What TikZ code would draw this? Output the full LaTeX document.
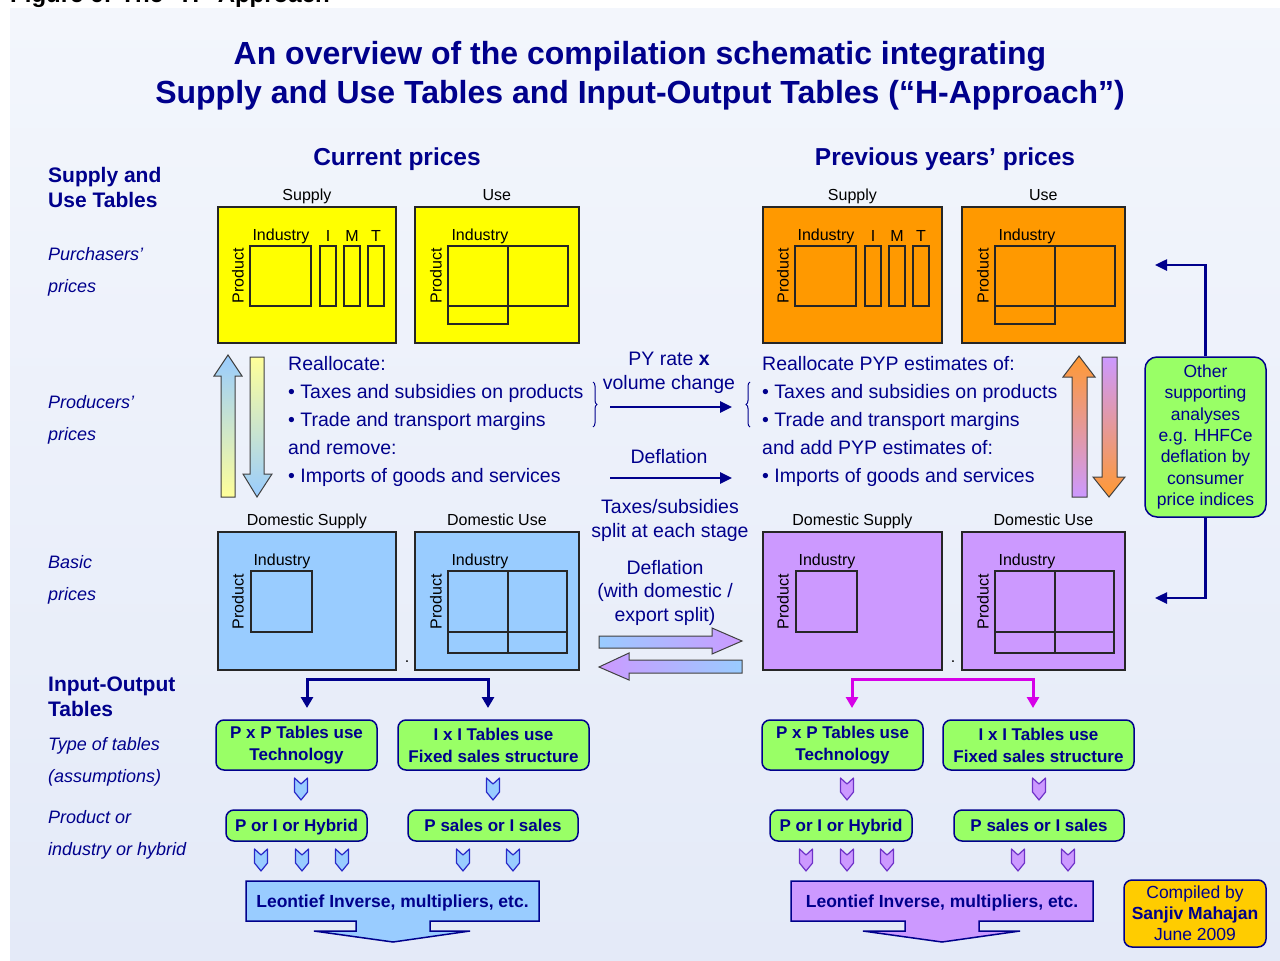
\documentclass[tikz,border=0pt]{standalone}
\usepackage{fontspec}
\setmainfont{Liberation Sans}
\usetikzlibrary{arrows.meta,decorations.pathreplacing}

\definecolor{navy}{RGB}{0,0,140}
\definecolor{sutyellow}{RGB}{255,255,0}
\definecolor{sutorange}{RGB}{255,153,0}
\definecolor{basblue}{RGB}{153,204,255}
\definecolor{baspurple}{RGB}{204,153,255}
\definecolor{iogreen}{RGB}{153,255,102}
\definecolor{gold}{RGB}{255,204,0}
\definecolor{pinkline}{RGB}{214,0,232}
\definecolor{lyellow}{RGB}{255,255,153}
\definecolor{lorange}{RGB}{255,153,51}
\definecolor{chvblue}{RGB}{40,40,200}
\definecolor{chvpurple}{RGB}{110,50,200}
\definecolor{bgtop}{RGB}{243,246,252}
\definecolor{bgbot}{RGB}{228,234,248}

\tikzset{
	tbl/.style={draw=black!85,line width=1.8pt,anchor=north west,inner sep=0pt},
	cell/.style={draw=black!85,line width=1.5pt},
	lbl/.style={text=black,inner sep=0pt,font=\fontsize{16}{16}\selectfont},
	head/.style={lbl,anchor=base,yshift=6pt},
	side/.style={text=navy,inner sep=0pt,anchor=north west,align=left},
	mid/.style={text=navy,inner sep=0pt,align=center,font=\fontsize{19.5}{24}\selectfont},
	iobox/.style={draw=navy,line width=1.5pt,fill=iogreen,rounded corners=8pt,text=navy,align=center,inner sep=0pt,font=\fontsize{17}{22}\selectfont\bfseries},
	varrow/.style={draw=black!75,line width=1pt},
	thinarr/.style={navy,line width=2.5pt,-{Triangle[length=12pt,width=11pt]}},
	brk/.style={line width=3pt,{Triangle[length=11pt,width=12pt]}-{Triangle[length=11pt,width=12pt]}},
	chv/.pic={\filldraw[pic actions,line width=1.2pt,line join=round] (-6.5,0) -- (0,6) -- (6.5,0) -- (6.5,14) -- (0,22) -- (-6.5,14) -- cycle;},
	% table grids, placed at the north west corner of each table
	supgrid/.pic={
		\draw[cell] (33,40) rectangle (94,100);
		\foreach \a/\t in {103/I,127/M,151/T} {
			\draw[cell] (\a,40) rectangle ++(16,60);
			\node[lbl] (c\t) at (\a+8,30) {\t};
		}
		\node[lbl] (ind) at (64,30) {Industry};
		\node[lbl,rotate=90] (prod) at (21,70) {Product};
	},
	usegrid/.pic={
		\draw[cell] (34,40) rectangle (154,100);
		\draw[cell] (94,40) -- (94,118);
		\draw[cell] (34,100) rectangle (94,118);
		\node[lbl] (ind) at (66,30) {Industry};
		\node[lbl,rotate=90] (prod) at (22,70) {Product};
	},
	dsgrid/.pic={
		\draw[cell] (34,40) rectangle (95,101);
		\node[lbl] (ind) at (65,30) {Industry};
		\node[lbl,rotate=90] (prod) at (21,71) {Product};
	},
	dugrid/.pic={
		\draw[cell] (34,40) rectangle (153,122);
		\draw[cell] (94,40) -- (94,122);
		\draw[cell] (34,101) -- (153,101);
		\node[lbl] (ind) at (66,30) {Industry};
		\node[lbl,rotate=90] (prod) at (22,71) {Product};
	},
}

\begin{document}
\begin{tikzpicture}[x=1pt,y=-1pt]
	
	\useasboundingbox (0,0) rectangle (1280,961);
	\fill[white] (0,0) rectangle (1280,961);
	\shade[top color=bgtop,bottom color=bgbot] (10,8) rectangle (1280,961);
	\begin{scope}
		\clip (0,0) rectangle (1280,961);
		\node[anchor=base west,inner sep=0pt,font=\fontsize{24}{24}\selectfont\bfseries] (fig) at (10,2) {Figure 6: The “H” Approach};
	\end{scope}
	
	% headings
	\node[text=navy,anchor=north,align=center,inner sep=0pt,font=\fontsize{32}{39}\selectfont\bfseries] (title) at (640,41) {An overview of the compilation schematic integrating\\Supply and Use Tables and Input-Output Tables (“H-Approach”)};
	\node[text=navy,anchor=north,inner sep=0pt,font=\fontsize{24.5}{24.5}\selectfont\bfseries] (cphead) at (397,148) {Current prices};
	\node[text=navy,anchor=north,inner sep=0pt,font=\fontsize{24.5}{24.5}\selectfont\bfseries] (pyhead) at (945,148) {Previous years’ prices};
	
	% left column
	\node[side,font=\fontsize{21}{25}\selectfont\bfseries] (sutl) at (48,167) {Supply and\\Use Tables};
	\node[side,font=\fontsize{18}{32}\selectfont\itshape] (purl) at (48,247) {Purchasers’\\prices};
	\node[side,font=\fontsize{18}{32}\selectfont\itshape] (prol) at (48,395) {Producers’\\prices};
	\node[side,font=\fontsize{18}{32}\selectfont\itshape] (basl) at (48,555) {Basic\\prices};
	\node[side,font=\fontsize{21}{25}\selectfont\bfseries] (iol) at (48,677) {Input-Output\\Tables};
	\node[side,font=\fontsize{18}{32}\selectfont\itshape] (typl) at (48,737) {Type of tables\\(assumptions)};
	\node[side,font=\fontsize{18}{32}\selectfont\itshape] (hybl) at (48,810) {Product or\\industry or hybrid};
	
	% supply and use tables
	\node[tbl,fill=sutyellow,minimum width=178pt,minimum height=136pt] (cpsup) at (217,206) {};
	\node[tbl,fill=sutyellow,minimum width=164pt,minimum height=136pt] (cpuse) at (414,206) {};
	\node[tbl,fill=sutorange,minimum width=179pt,minimum height=136pt] (pysup) at (762,206) {};
	\node[tbl,fill=sutorange,minimum width=163pt,minimum height=136pt] (pyuse) at (961,206) {};
	\node[tbl,fill=basblue,minimum width=178pt,minimum height=138pt] (cpdsup) at (217,531) {};
	\node[tbl,fill=basblue,minimum width=164pt,minimum height=138pt] (cpduse) at (414,531) {};
	\node[tbl,fill=baspurple,minimum width=179pt,minimum height=138pt] (pydsup) at (762,531) {};
	\node[tbl,fill=baspurple,minimum width=163pt,minimum height=138pt] (pyduse) at (961,531) {};
	
	\pic (cps) at (cpsup.north west) {supgrid};
	\pic (cpu) at (cpuse.north west) {usegrid};
	\pic (pys) at (pysup.north west) {supgrid};
	\pic (pyu) at (pyuse.north west) {usegrid};
	\pic (cpds) at (cpdsup.north west) {dsgrid};
	\pic (cpdu) at (cpduse.north west) {dugrid};
	\pic (pyds) at (pydsup.north west) {dsgrid};
	\pic (pydu) at (pyduse.north west) {dugrid};
	
	\node[head] (cpsupl) at (cpsup.north) {Supply};
	\node[head] (cpusel) at (cpuse.north) {Use};
	\node[head] (pysupl) at (pysup.north) {Supply};
	\node[head] (pyusel) at (pyuse.north) {Use};
	\node[head] (cpdsupl) at (cpdsup.north) {Domestic Supply};
	\node[head] (cpdusel) at (cpduse.north) {Domestic Use};
	\node[head] (pydsupl) at (pydsup.north) {Domestic Supply};
	\node[head] (pydusel) at (pyduse.north) {Domestic Use};
	\node[lbl] (cpdot) at (407,662) {.};
	\node[lbl] (pydot) at (953,662) {.};
	
	% valuation arrows
	\shadedraw[varrow,top color=basblue,bottom color=lyellow] (221,497) -- (221,376) -- (214,376) -- (228,355) -- (242,376) -- (235,376) -- (235,497) -- cycle;
	\shadedraw[varrow,top color=lyellow,bottom color=basblue] (250,357) -- (264,357) -- (264,474) -- (272,474) -- (257,497) -- (243,474) -- (250,474) -- cycle;
	\shadedraw[varrow,top color=lorange,bottom color=baspurple] (1072,497) -- (1072,377) -- (1063,377) -- (1079,356) -- (1095,377) -- (1087,377) -- (1087,497) -- cycle;
	\shadedraw[varrow,top color=baspurple,bottom color=lorange] (1102,357) -- (1117,357) -- (1117,477) -- (1125,477) -- (1109,497) -- (1093,477) -- (1102,477) -- cycle;
	
	\node[side,font=\fontsize{19.5}{28}\selectfont] (cpre) at (288,356) {Reallocate:\\• Taxes and subsidies on products\\• Trade and transport margins\\and remove:\\• Imports of goods and services};
	\node[side,font=\fontsize{19.5}{28}\selectfont] (pyre) at (762,356) {Reallocate PYP estimates of:\\• Taxes and subsidies on products\\• Trade and transport margins\\and add PYP estimates of:\\• Imports of goods and services};
	\draw[navy,line width=1pt,decorate,decoration={brace,amplitude=4pt}] (593,382) -- (593,427);
	\draw[navy,line width=1pt,decorate,decoration={brace,amplitude=4pt}] (750,427) -- (750,382);
	
	% between the two price bases
	\node[mid,anchor=north] (vol) at (669,352) {PY rate \textbf{x}\\volume change};
	\node[mid,anchor=base] (defl) at (669,463) {Deflation};
	\node[mid,anchor=north] (tax) at (670,499) {Taxes/subsidies\\split at each stage};
	\node[mid,anchor=north,font=\fontsize{19.5}{23.5}\selectfont] (defx) at (665,560) {Deflation\\(with domestic /\\export split)};
	\coordinate (va) at (610,407);
	\coordinate (vb) at (732,407);
	\coordinate (da) at (610,478);
	\coordinate (db) at (732,478);
	\draw[thinarr] (va) -- (vb);
	\draw[thinarr] (da) -- (db);
	\shadedraw[varrow,left color=basblue,right color=baspurple] (599,636) -- (712,636) -- (712,628) -- (742,641) -- (712,654) -- (712,648) -- (599,648) -- cycle;
	\shadedraw[varrow,left color=baspurple,right color=basblue] (742,660) -- (629,660) -- (629,653) -- (599,667) -- (629,680) -- (629,673) -- (742,673) -- cycle;
	
	% input-output tables
	\coordinate (cpl) at (307,708);
	\coordinate (cpm) at (397,679);
	\coordinate (cpr) at (488,708);
	\draw[brk,navy] (cpl) |- (cpm) -| (cpr);
	\coordinate (pyl) at (852,708);
	\coordinate (pym) at (942,679);
	\coordinate (pyr) at (1033,708);
	\draw[brk,pinkline] (pyl) |- (pym) -| (pyr);
	
	\node[iobox,minimum width=161pt,minimum height=50pt] (cppxp) at (296.5,745) {P x P Tables use\\Technology};
	\node[iobox,minimum width=191pt,minimum height=50pt] (cpixi) at (493.5,745) {I x I Tables use\\Fixed sales structure};
	\node[iobox,minimum width=161pt,minimum height=50pt] (pypxp) at (842.5,745) {P x P Tables use\\Technology};
	\node[iobox,minimum width=191pt,minimum height=50pt] (pyixi) at (1038.5,745) {I x I Tables use\\Fixed sales structure};
	\node[iobox,minimum width=141pt,minimum height=31pt,text depth=0pt] (cphyb) at (296.5,825.5) {P or I or Hybrid};
	\node[iobox,minimum width=170pt,minimum height=31pt,text depth=0pt] (cpsal) at (493,825.5) {P sales or I sales};
	\node[iobox,minimum width=142pt,minimum height=31pt,text depth=0pt] (pyhyb) at (841,825.5) {P or I or Hybrid};
	\node[iobox,minimum width=170pt,minimum height=31pt,text depth=0pt] (pysal) at (1039,825.5) {P sales or I sales};
	
	\foreach \x in {301,493}
		\pic[fill=basblue,draw=chvblue] at (\x,778) {chv};
	\foreach \x in {261,302,342,463,513}
		\pic[fill=basblue,draw=chvblue] at (\x,849) {chv};
	\foreach \x in {847,1039}
		\pic[fill=baspurple,draw=chvpurple] at (\x,778) {chv};
	\foreach \x in {806,847,887,1018,1068}
		\pic[fill=baspurple,draw=chvpurple] at (\x,849) {chv};
	
	\filldraw[draw=navy,line width=1.5pt,fill=basblue] (246,881) -- (539,881) -- (539,921) -- (430,921) -- (430,931) -- (470,931) -- (393,942) -- (314,931) -- (356,931) -- (356,921) -- (246,921) -- cycle;
	\filldraw[draw=navy,line width=1.5pt,fill=baspurple] (791,881) -- (1093,881) -- (1093,921) -- (979,921) -- (979,931) -- (1020,931) -- (942,942) -- (863,931) -- (905,931) -- (905,921) -- (791,921) -- cycle;
	\node[text=navy,inner sep=0pt,font=\fontsize{17.5}{17.5}\selectfont\bfseries] (cpleo) at (392.5,902.5) {Leontief Inverse, multipliers, etc.};
	\node[text=navy,inner sep=0pt,font=\fontsize{17.5}{17.5}\selectfont\bfseries] (pyleo) at (942,902.5) {Leontief Inverse, multipliers, etc.};
	
	% side notes
	\node[iobox,font=\fontsize{17.5}{21.3}\selectfont,rounded corners=12pt,minimum width=121pt,minimum height=160pt] (other) at (1205.5,437) {Other\\supporting\\analyses\\e.g. HHFCe\\deflation by\\consumer\\price indices};
	\coordinate (oa) at (1155,265);
	\coordinate (ob) at (1155,598);
	\draw[thinarr] (other.north) |- (oa);
	\draw[thinarr] (other.south) |- (ob);
	\node[iobox,fill=gold,font=\fontsize{17.5}{21}\selectfont,minimum width=142pt,minimum height=67pt] (comp) at (1195,913.5) {Compiled by\\\textbf{Sanjiv Mahajan}\\June 2009};
	
\end{tikzpicture}
\end{document}
